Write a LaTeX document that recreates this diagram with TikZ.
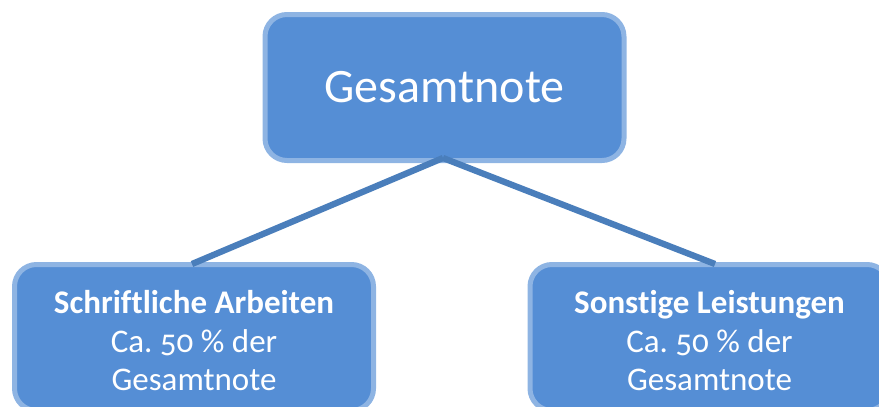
\documentclass[tikz,border=0pt]{standalone}
\usepackage{fontspec}
\setmainfont{Carlito}[Numbers=OldStyle, Ligatures=NoCommon]
\definecolor{boxfill}{HTML}{558ED5}
\definecolor{boxborder}{HTML}{8EB4E3}
\definecolor{linkcol}{HTML}{4A7EBB}
\begin{document}
\begin{tikzpicture}[x=1pt,y=-1pt,
  box/.style={draw=boxborder, fill=boxfill, line width=5pt, rounded corners=22pt,
    minimum width=359pt, minimum height=146pt, inner sep=0pt, text=white, align=center},
  lbl/.style={text=white, align=center, font=\fontsize{33}{38.5}\selectfont},
  link/.style={draw=linkcol, line width=6.3pt}]
\useasboundingbox (0,0) rectangle (879,407);
\node[box, font=\fontsize{48}{58}\selectfont] (top) at (444.5,87.5) {Gesamtnote};
\node[box] (left) at (194,337.5) {};
\node[box] (right) at (709.5,337.5) {};
\node[lbl] (lt) at (194,341) {\textbf{Schriftliche Arbeiten}\\Ca.\ 50 \% der\\Gesamtnote};
\node[lbl] (rt) at (709.5,341) {\textbf{Sonstige Leistungen}\\Ca.\ 50 \% der\\Gesamtnote};
\coordinate (ta) at (443,158);
\coordinate (la) at (192,264);
\coordinate (ra) at (715,264);
\draw[link] (ta) -- (la);
\draw[link] (ta) -- (ra);
\end{tikzpicture}
\end{document}
